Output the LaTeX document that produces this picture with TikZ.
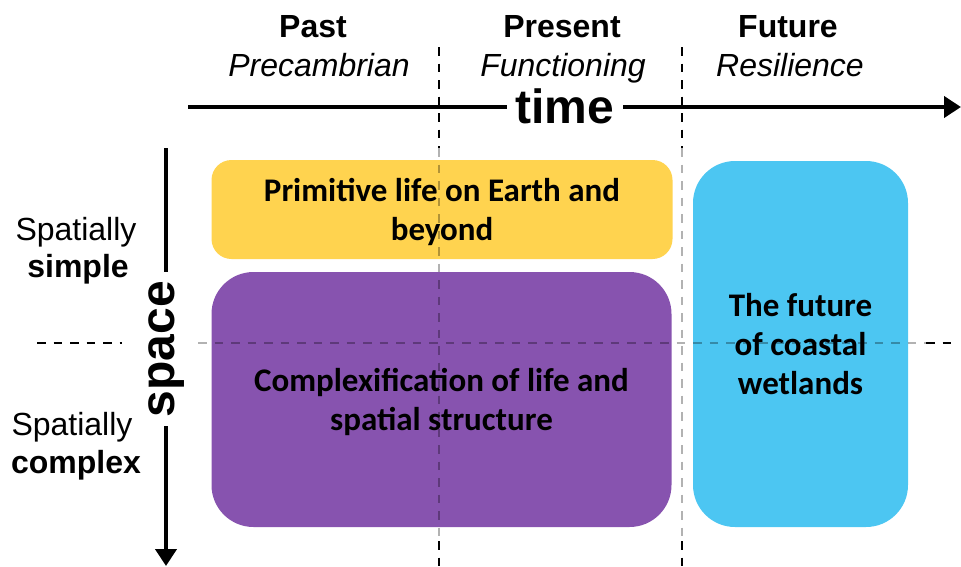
\documentclass[tikz,border=0pt]{standalone}
\usepackage{fontspec}
\setmainfont{Liberation Sans}
\newfontfamily\boxfont{Carlito}
\usetikzlibrary{arrows.meta}
\definecolor{boxyellow}{HTML}{FFD34F}
\definecolor{boxpurple}{HTML}{8753AF}
\definecolor{boxblue}{HTML}{4CC6F2}
\begin{document}
\begin{tikzpicture}[x=1pt,y=-1pt,
  hdr/.style={anchor=base,inner sep=0pt,font=\fontsize{32}{38}\selectfont\bfseries},
  sub/.style={anchor=base,inner sep=0pt,font=\fontsize{32}{38}\selectfont\itshape},
  side/.style={anchor=base,inner sep=0pt,font=\fontsize{32}{38}\selectfont},
  sidebold/.style={anchor=base,inner sep=0pt,font=\fontsize{32}{38}\selectfont\bfseries},
  axislabel/.style={font=\fontsize{48}{56}\selectfont\bfseries,fill=white,inner xsep=9pt,inner ysep=2pt},
  region/.style={inner sep=0pt,draw=none,align=center,text=black,
    font=\boxfont\bfseries\fontsize{33}{39}\selectfont},
  divider/.style={line width=2pt,dash pattern=on 8.5pt off 8pt},
  faint/.style={divider,draw opacity=0.3},
  axis/.style={line width=4pt,-{Triangle[length=17pt,width=21pt]}}
]
\useasboundingbox (0,0) rectangle (961,566);

% boxes
\node[region,fill=boxyellow,rounded corners=20pt,minimum width=461pt,minimum height=99pt]
  (yellow) at (442,209.5) {};
\node[region] (yellowtext) at (442,212) {Primitive life on Earth and\\beyond};
\node[region,fill=boxpurple,rounded corners=42pt,minimum width=460pt,minimum height=255pt]
  (purple) at (441.5,399.5) {};
\node[region] (purpletext) at (441.5,402) {Complexification of life and\\spatial structure};
\node[region,fill=boxblue,rounded corners=42pt,minimum width=215pt,minimum height=366pt]
  (blue) at (800.5,344) {The future\\of coastal\\wetlands};

% dividers (black outside the box area, faint inside)
\coordinate (v1top) at (439,47);   \coordinate (v1a) at (439,148);
\coordinate (v1b) at (439,541);    \coordinate (v1bot) at (439,566);
\coordinate (v2top) at (682,47);   \coordinate (v2a) at (682,148);
\coordinate (v2b) at (682,541);    \coordinate (v2bot) at (682,566);
\coordinate (h0) at (37,343);      \coordinate (h1) at (122,343);
\coordinate (h2) at (198,343);     \coordinate (h3) at (926,343);
\coordinate (h4) at (952,343);
\draw[divider] (v1top) -- (v1a);
\draw[faint] (v1a) -- (v1b);
\draw[divider] (v1b) -- (v1bot);
\draw[divider] (v2top) -- (v2a);
\draw[faint] (v2a) -- (v2b);
\draw[divider] (v2b) -- (v2bot);
\draw[divider] (h0) -- (h1);
\draw[faint] (h2) -- (h3);
\draw[divider] (h3) -- (h4);

% time axis
\coordinate (tstart) at (188,107);
\coordinate (tend) at (961,107);
\draw[axis] (tstart) -- (tend);
\node[axislabel] (time) at (565,106) {time};

% space axis
\coordinate (sstart) at (166,148);
\coordinate (send) at (166,566);
\draw[axis] (sstart) -- (send);
\node[axislabel,rotate=90] (space) at (167,349) {space};

% headers
\node[hdr] (past) at (313,37) {Past};
\node[sub] (precambrian) at (319,76) {Precambrian};
\node[hdr] (present) at (562,37) {Present};
\node[sub] (functioning) at (563,76) {Functioning};
\node[hdr] (future) at (788,37) {Future};
\node[sub] (resilience) at (790,76) {Resilience};

% side labels
\node[side] (sp1) at (76,240) {Spatially};
\node[sidebold] (simple) at (78,277) {simple};
\node[side] (sp2) at (72,435) {Spatially};
\node[sidebold] (complex) at (76,473) {complex};
\end{tikzpicture}
\end{document}
